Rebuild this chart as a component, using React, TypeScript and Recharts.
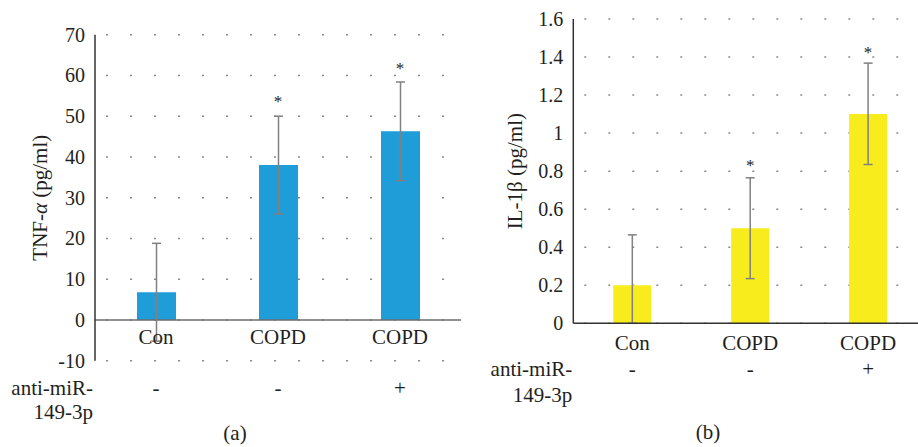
import React from 'react';
import { ComposedChart, Bar, ErrorBar, Scatter, XAxis, YAxis, CartesianGrid, ReferenceLine } from 'recharts';

const groupIds = ['g1', 'g2', 'g3'];
const groupNames = ['Con', 'COPD', 'COPD'];
const treatmentMarks = ['-', '-', '+'];
const tnfValues = [6.8, 38.0, 46.3];
const tnfErrors = [12.0, 12.0, 12.1];
const tnfStars: (number | null)[] = [null, 54.3, 62.4];
const il1bValues = [0.2, 0.5, 1.1];
const il1bErrors = [[0.2, 0.265], [0.265, 0.265], [0.265, 0.268]];
const il1bStars: (number | null)[] = [null, 0.842, 1.438];
const tnfTicks = [-10, 0, 10, 20, 30, 40, 50, 60, 70];
const il1bTicks = [0, 0.2, 0.4, 0.6, 0.8, 1, 1.2, 1.4, 1.6];

const tnfData = groupIds.map((id, i) => ({ id, value: tnfValues[i], err: tnfErrors[i], star: tnfStars[i] }));
const il1bData = groupIds.map((id, i) => ({ id, value: il1bValues[i], err: il1bErrors[i], star: il1bStars[i] }));

const FONT = 'Liberation Serif';
const TEXT = '#231f20';
const txt = { fontFamily: FONT, fontSize: 21, fill: TEXT };

const makeTick = (nameDy: number, markDy: number, rowLabelX: number, row2Dy: number) => (props: any) => {
  const { x, y, payload } = props;
  const i = groupIds.indexOf(payload.value);
  return (
    <g>
      <text x={x} y={nameDy + y} textAnchor="middle" dominantBaseline="central" style={txt}>
        {groupNames[i]}
      </text>
      <text x={x} y={markDy + y} textAnchor="middle" dominantBaseline="central" style={txt}>
        {treatmentMarks[i]}
      </text>
      {i === 0 && (
        <g>
          <text x={x + rowLabelX} y={markDy + y} textAnchor="end" dominantBaseline="central" style={txt}>
            anti-miR-
          </text>
          <text x={x + rowLabelX} y={row2Dy + y} textAnchor="end" dominantBaseline="central" style={txt}>
            149-3p
          </text>
        </g>
      )}
    </g>
  );
};

const YLabel = (props: any) => {
  const { viewBox, cx, main, greek, italic, rest } = props;
  const cy = viewBox.y + viewBox.height / 2;
  return (
    <text x={cx} y={cy} transform={`rotate(-90, ${cx}, ${cy})`} textAnchor="middle" dominantBaseline="central" style={txt}>
      <tspan>{main}</tspan>
      <tspan style={{ fontStyle: italic ? 'italic' : 'normal' }}>{greek}</tspan>
      <tspan>{rest}</tspan>
    </text>
  );
};

const Star = (props: any) => {
  const { cx, cy, payload } = props;
  if (payload == null || payload.star == null || !isFinite(cy)) return <g />;
  return (
    <text x={cx} y={cy + 8} textAnchor="middle" style={{ fontFamily: FONT, fontSize: 17, fill: TEXT }}>
      *
    </text>
  );
};

const YTick = (props: any) => {
  const { x, y, payload } = props;
  return (
    <text x={x} y={y} textAnchor="end" dominantBaseline="central" style={{ fontFamily: FONT, fontSize: 20, fill: TEXT }}>
      {String(payload.value)}
    </text>
  );
};

export default function App() {
  return (
    <div style={{ position: 'absolute', left: 0, top: 0, width: 918, height: 447, overflow: 'hidden', background: '#fff', fontFamily: FONT }}>
      <div style={{ position: 'absolute', left: 0, top: 0 }}>
        <ComposedChart width={461} height={447} data={tnfData} margin={{ top: 34.7, right: 0, left: 0, bottom: 56.3 }}>
          <CartesianGrid vertical={false} stroke="#8a8a8a" strokeWidth={1.5} strokeDasharray="2 22" strokeDashoffset={13} />
          <XAxis dataKey="id" type="category" height={30} axisLine={false} tickLine={false} tickSize={0} tickMargin={0}
            tick={makeTick(-23.7, 27.3, -63, 51.3)} interval={0} />
          <YAxis type="number" width={95} domain={[-10, 70]} ticks={tnfTicks} interval={0} axisLine={{ stroke: '#333', strokeWidth: 1.5 }}
            tickLine={false} tickSize={0} tickMargin={10} tick={<YTick />}
            label={<YLabel cx={40} main="TNF-" greek="α" italic rest=" (pg/ml)" />} />
          <ReferenceLine y={0} stroke="#6b6b6b" strokeWidth={1.5} />
          <Bar dataKey="value" fill="#1f9dd8" barSize={39} isAnimationActive={false}>
            <ErrorBar dataKey="err" width={4.5} stroke="#808080" strokeWidth={1.5} isAnimationActive={false} />
          </Bar>
          <Scatter dataKey="star" shape={<Star />} isAnimationActive={false} />
        </ComposedChart>
      </div>
      <div style={{ position: 'absolute', left: 460, top: 0 }}>
        <ComposedChart width={467} height={447} data={il1bData} margin={{ top: 19, right: 0, left: 0, bottom: 93.7 }}>
          <CartesianGrid vertical={false} stroke="#8a8a8a" strokeWidth={1.5} strokeDasharray="2 22" strokeDashoffset={13} />
          <XAxis dataKey="id" type="category" height={30} axisLine={{ stroke: '#333', strokeWidth: 1.5 }} tickLine={false} tickSize={0} tickMargin={0}
            tick={makeTick(19.4, 45.7, -60, 71.7)} interval={0} />
          <YAxis type="number" width={113.3} domain={[0, 1.6]} ticks={il1bTicks} interval={0} axisLine={{ stroke: '#333', strokeWidth: 1.5 }}
            tickLine={false} tickSize={0} tickMargin={10} tick={<YTick />}
            label={<YLabel cx={55} main="IL-1" greek="β" italic={false} rest=" (pg/ml)" />} />
          <Bar dataKey="value" fill="#f8ec1c" barSize={38} isAnimationActive={false}>
            <ErrorBar dataKey="err" width={4.5} stroke="#808080" strokeWidth={1.5} isAnimationActive={false} />
          </Bar>
          <Scatter dataKey="star" shape={<Star />} isAnimationActive={false} />
        </ComposedChart>
      </div>
      <div style={{ position: 'absolute', left: 185, width: 100, top: 421, lineHeight: '24px', textAlign: 'center', fontFamily: FONT, fontSize: 21, color: TEXT }}>(a)</div>
      <div style={{ position: 'absolute', left: 658, width: 100, top: 420, lineHeight: '24px', textAlign: 'center', fontFamily: FONT, fontSize: 21, color: TEXT }}>(b)</div>
    </div>
  );
}
